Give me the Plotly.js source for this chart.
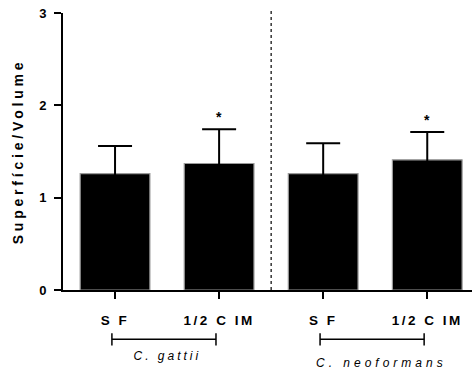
<!DOCTYPE html>
<html>
<head>
<meta charset="utf-8">
<script src="https://cdn.plot.ly/plotly-3.0.1.min.js"></script>
<style>
html,body{margin:0;padding:0;background:#fff;}
#chart{width:472px;height:372px;}
.xtick text{letter-spacing:2.5px;}
.ytitle{letter-spacing:3.8px;}
</style>
</head>
<body>
<div id="chart"></div>
<script>
// Data
var categories = ["SF (C. gattii)", "1/2 CIM (C. gattii)", "SF (C. neoformans)", "1/2 CIM (C. neoformans)"];
var tickLabels = ["S F", "1/2 C IM", "S F", "1/2 C IM"];
var means = [1.26, 1.37, 1.26, 1.41];
var sds = [0.30, 0.37, 0.33, 0.30];
var significance = ["", "*", "", "*"];
var groupNames = ["C. gattii", "C. neoformans"];
var groupMembers = [[0, 1], [2, 3]];

var xpos = categories.map(function(_, i){ return i; });
var FAM = 'Liberation Sans, Arial, sans-serif';

var trace = {
  type: 'bar',
  x: xpos,
  y: means,
  width: 0.67,
  marker: {color: '#000000', line: {color: '#9a9a9a', width: 1.2}},
  error_y: {type: 'data', array: sds, symmetric: true,
            color: '#000000', thickness: 2, width: 17},
  hoverinfo: 'none'
};

var annotations = [];
significance.forEach(function(s, i){
  if (s) annotations.push({x: xpos[i], y: means[i] + sds[i], xref: 'x', yref: 'y', text: s,
    showarrow: false, yanchor: 'bottom', yshift: 2, font: {family: FAM, size: 14, color: '#000', weight: 700}});
});
var groupLabelY = [-0.24, -0.265];
var groupLabelShift = [0, 6];
groupNames.forEach(function(g, k){
  var m = groupMembers[k];
  annotations.push({x: (xpos[m[0]] + xpos[m[m.length-1]]) / 2, y: groupLabelY[k], xref: 'x', yref: 'paper',
    xshift: groupLabelShift[k],
    text: '<i>' + g + '</i>', showarrow: false, yanchor: 'middle',
    font: {family: FAM, size: 12, color: '#000'}});
});

var shapes = [];
groupMembers.forEach(function(m, k){
  var x0 = xpos[m[0]] - 0.03, x1 = xpos[m[m.length-1]] - 0.03;
  var yb = -0.178;
  var lineStyle = {color: '#000', width: 1.5};
  shapes.push({type: 'line', xref: 'x', yref: 'paper', x0: x0, x1: x1, y0: yb, y1: yb, line: lineStyle});
  shapes.push({type: 'line', xref: 'x', yref: 'paper', x0: x0, x1: x0, y0: yb - 0.022, y1: yb + 0.022, line: lineStyle});
  shapes.push({type: 'line', xref: 'x', yref: 'paper', x0: x1, x1: x1, y0: yb - 0.022, y1: yb + 0.022, line: lineStyle});
});
shapes.push({type: 'line', xref: 'x', yref: 'paper', x0: 1.5, x1: 1.5, y0: 0, y1: 1.012,
  line: {color: '#000', width: 1.2, dash: 'dot'}});

var layout = {
  width: 472, height: 372,
  margin: {l: 63, r: 0, t: 13, b: 82},
  paper_bgcolor: '#fff', plot_bgcolor: '#fff',
  showlegend: false,
  font: {family: FAM, color: '#000'},
  xaxis: {
    range: [-0.5, 3.43],
    tickmode: 'array', tickvals: xpos, ticktext: tickLabels,
    ticks: 'outside', ticklen: 7, tickwidth: 2, tickcolor: '#000',
    showline: true, linecolor: '#000', linewidth: 2,
    showgrid: false, zeroline: false,
    ticklabelstandoff: 10,
    tickfont: {family: FAM, size: 13.5, color: '#000', weight: 700},
    fixedrange: true
  },
  yaxis: {
    range: [0, 3],
    tickvals: [0, 1, 2, 3], ticktext: ['0', '1', '2', '3'],
    ticks: 'outside', ticklen: 7, tickwidth: 2, tickcolor: '#000',
    showline: true, linecolor: '#000', linewidth: 2,
    showgrid: false, zeroline: false,
    ticklabelstandoff: 5,
    tickfont: {family: FAM, size: 13, color: '#000', weight: 700},
    title: {text: 'Superfície/Volume', standoff: 12,
            font: {family: FAM, size: 14, color: '#000', weight: 700}},
    fixedrange: true
  },
  annotations: annotations,
  shapes: shapes
};

Plotly.newPlot('chart', [trace], layout, {displayModeBar: false, staticPlot: true}).then(function(){
  var spacings = {'C. gattii': '3px', 'C. neoformans': '4px'};
  document.querySelectorAll('.annotation-text').forEach(function(t){
    var s = spacings[t.textContent];
    if (s) t.style.letterSpacing = s;
  });
});
</script>
</body>
</html>
